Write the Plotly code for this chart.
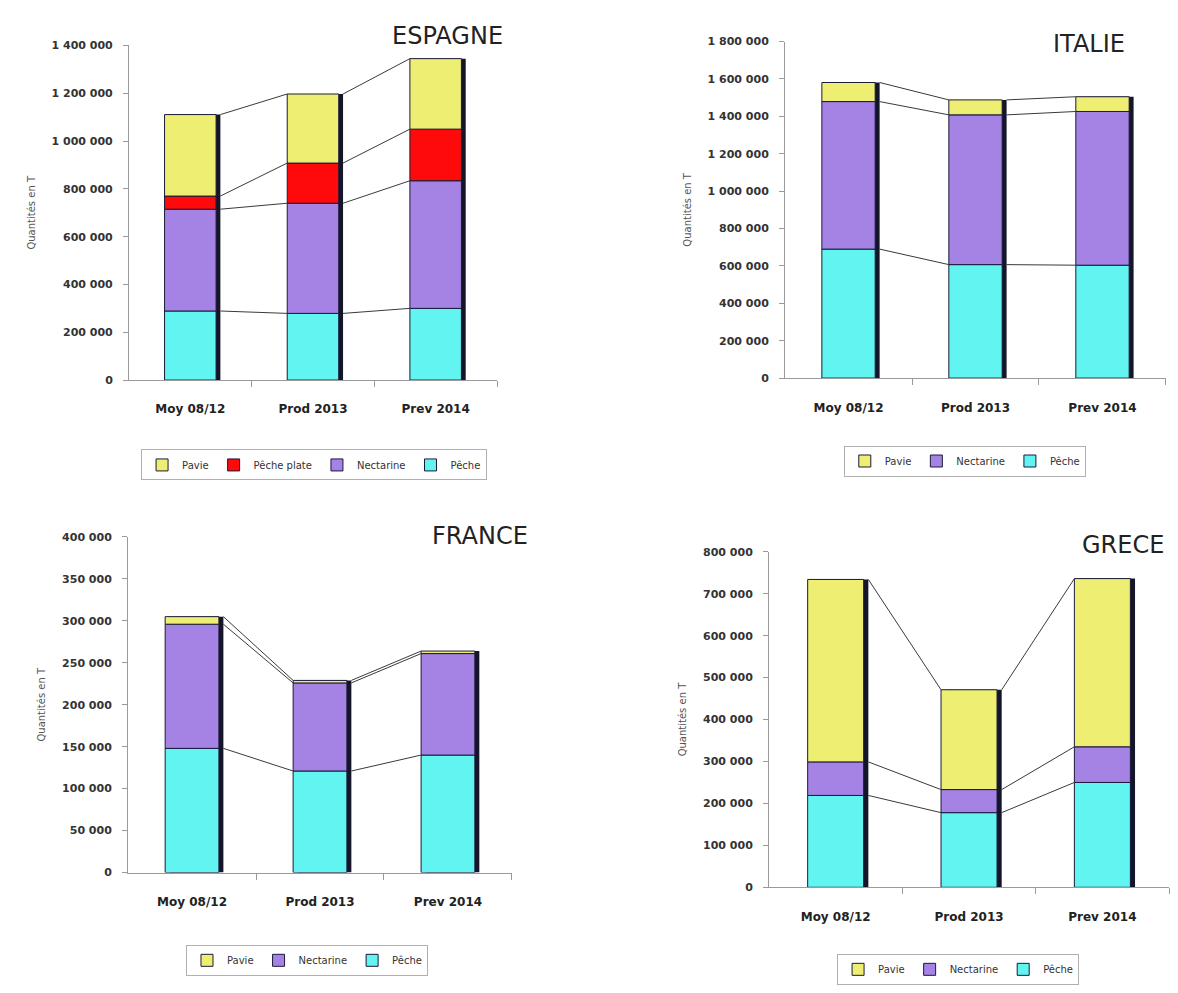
import plotly.graph_objects as go

categories = ["Moy 08/12", "Prod 2013", "Prev 2014"]

# ESPAGNE
esp_peche = [289000, 279000, 300000]
esp_nect = [426000, 461000, 534000]
esp_plate = [55000, 168000, 216000]
esp_pavie = [341000, 289000, 295000]
# ITALIE
ita_peche = [690000, 607000, 604000]
ita_nect = [789000, 801000, 822000]
ita_pavie = [102000, 80000, 79000]
# FRANCE
fra_peche = [148000, 121000, 140000]
fra_nect = [148000, 105000, 121000]
fra_pavie = [9000, 3000, 3000]
# GRECE
gre_peche = [219000, 178000, 250000]
gre_nect = [80000, 55000, 85000]
gre_pavie = [435000, 238000, 401000]

COL = {"Pêche": "#62F4F0", "Nectarine": "#A583E4",
       "Pêche plate": "#FF0A0A", "Pavie": "#EEEE72"}

W = 0.42
fig = go.Figure()

panels = [
    dict(name="ESPAGNE", series=[("Pêche", esp_peche), ("Nectarine", esp_nect), ("Pêche plate", esp_plate), ("Pavie", esp_pavie)],
         ax="", dx=[0.1095, 0.4219], dy=[0.6183, 0.9597], rng=1400000, dt=200000,
         title_xy=(0.4287, 0.9698), leg_xy=(0.2666, 0.5317)),
    dict(name="ITALIE", series=[("Pêche", ita_peche), ("Nectarine", ita_nect), ("Pavie", ita_pavie)],
         ax="2", dx=[0.6664, 0.9898], dy=[0.6203, 0.9637], rng=1800000, dt=200000,
         title_xy=(0.9567, 0.9617), leg_xy=(0.819, 0.5357)),
    dict(name="FRANCE", series=[("Pêche", fra_peche), ("Nectarine", fra_nect), ("Pavie", fra_pavie)],
         ax="3", dx=[0.1087, 0.4346], dy=[0.1158, 0.4582], rng=400000, dt=50000,
         title_xy=(0.4499, 0.4592), leg_xy=(0.2606, 0.0262)),
    dict(name="GRECE", series=[("Pêche", gre_peche), ("Nectarine", gre_nect), ("Pavie", gre_pavie)],
         ax="4", dx=[0.6528, 0.9924], dy=[0.1007, 0.4431], rng=800000, dt=100000,
         title_xy=(0.9898, 0.4502), leg_xy=(0.8133, 0.017)),
]

xs = list(range(len(categories)))
for i, p in enumerate(panels):
    ax = p["ax"]
    xa, ya = "x" + ax, "y" + ax
    leg = "legend" + ax
    totals = [sum(s[1][k] for s in p["series"]) for k in xs]
    # shadow (3D-like dark right edge)
    fig.add_trace(go.Bar(x=xs, y=totals, base=[0] * 3, width=W, offset=-W / 2 + 0.035,
                         marker=dict(color="#15152a", line=dict(width=0)),
                         xaxis=xa, yaxis=ya, showlegend=False, hoverinfo="skip"))
    cum = [0, 0, 0]
    levels = []
    for name, vals in p["series"]:
        fig.add_trace(go.Bar(x=xs, y=vals, base=list(cum), width=W, offset=-W / 2, name=name,
                             marker=dict(color=COL[name], line=dict(color="#1a1a3a", width=1)),
                             xaxis=xa, yaxis=ya, legend=leg))
        cum = [cum[k] + vals[k] for k in xs]
        levels.append(list(cum))
    # series connector lines
    lx, ly = [], []
    for lev in levels:
        for k in xs[:-1]:
            lx += [k + W / 2 + 0.035, k + 1 - W / 2, None]
            ly += [lev[k], lev[k + 1], None]
    fig.add_trace(go.Scatter(x=lx, y=ly, mode="lines", line=dict(color="#3a3a3a", width=1),
                             xaxis=xa, yaxis=ya, showlegend=False, hoverinfo="skip"))

    xkey = "xaxis" + ax
    ykey = "yaxis" + ax
    fig.update_layout(**{
        xkey: dict(domain=p["dx"], anchor=ya, range=[-0.5, 2.5], tickvals=xs, ticktext=categories,
                   ticks="", showline=True, linecolor="#9a9a9a", linewidth=1, showgrid=False,
                   zeroline=False, tickfont=dict(family="DejaVu Sans", size=12, color="#222", weight="bold"),
                   ticklabelstandoff=18,
                   minor=dict(tickvals=[0.5, 1.5, 2.5], ticks="outside", ticklen=6,
                              tickcolor="#9a9a9a", showgrid=False)),
        ykey: dict(domain=p["dy"], anchor=xa, range=[0, p["rng"]], dtick=p["dt"], tick0=0,
                   tickformat=",d", ticks="outside", ticklen=5, tickcolor="#9a9a9a",
                   showline=True, linecolor="#9a9a9a", linewidth=1, showgrid=False,
                   zeroline=False, tickfont=dict(family="DejaVu Sans", size=11, color="#333", weight="bold"),
                   ticklabelstandoff=8,
                   title=dict(text="Quantités en T", font=dict(family="DejaVu Sans", size=10, color="#555"),
                              standoff=14)),
        leg: dict(x=p["leg_xy"][0], y=p["leg_xy"][1], xanchor="center", yanchor="middle",
                  orientation="h", traceorder="reversed", bgcolor="white",
                  bordercolor="#b0b0b0", borderwidth=1,
                  font=dict(family="DejaVu Sans", size=10, color="#333"),
                  itemwidth=30, tracegroupgap=0),
    })
    fig.add_annotation(text=p["name"], xref="paper", yref="paper", x=p["title_xy"][0],
                       y=p["title_xy"][1], xanchor="right", yanchor="middle", showarrow=False,
                       font=dict(family="DejaVu Sans", size=24, color="#222"))

fig.update_layout(width=1178, height=993, margin=dict(l=0, r=0, t=0, b=0),
                  barmode="overlay", separators=", ", plot_bgcolor="white",
                  paper_bgcolor="white", hovermode=False)

fig.write_html("out.html")
